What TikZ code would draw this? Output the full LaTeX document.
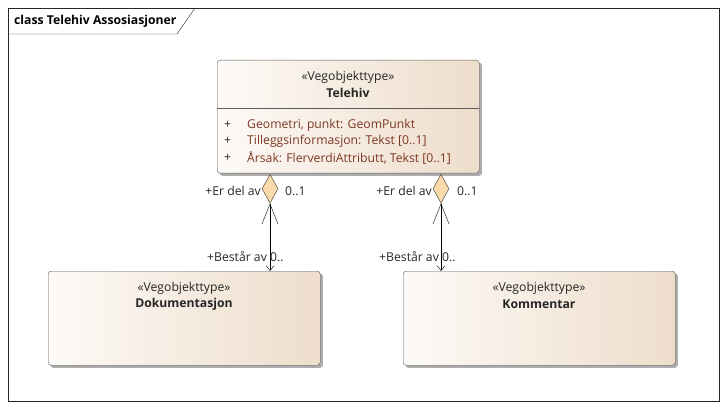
\documentclass[tikz,border=0pt]{standalone}
\usepackage{fontspec}
\setmainfont{Open Sans}
\usetikzlibrary{arrows.meta,shapes.geometric,backgrounds,positioning}

\definecolor{boxline}{RGB}{90,90,90}
\definecolor{boxleft}{RGB}{253,250,247}
\definecolor{boxright}{RGB}{238,221,203}
\definecolor{attrtext}{RGB}{125,55,35}
\definecolor{aggfill}{RGB}{250,218,170}

\begin{document}
\begin{tikzpicture}[x=1pt,y=-1pt,
	classbox/.style={draw=boxline, rounded corners=3pt, left color=boxleft, right color=boxright,
		anchor=north west, inner sep=0pt},
	shadowbox/.style={fill=black!32, rounded corners=3pt},
	txt/.style={font=\fontsize{12.2}{14}\selectfont, inner sep=0pt, text=black!85},
	bold/.style={txt, font=\fontsize{12.2}{14}\selectfont\bfseries},
	attr/.style={txt, anchor=west, text=attrtext},
	aggr/.style={shape=diamond, draw=black!80, fill=aggfill, inner sep=0pt,
		minimum width=16pt, minimum height=29pt, anchor=north},
	assoc/.style={draw=black, {Straight Barb[length=20pt,width=16pt]}-{Straight Barb[length=5pt,width=8pt]}}]
	\useasboundingbox (0,0) rectangle (726,409);
	% frame
	\draw[black!85] (8,8) rectangle (719,401);
	\draw[black!85] (8,34) -- (177,34) -- (195,8);
	\node[bold, anchor=west, text=black] (title) at (14,21) {class Telehiv Assosiasjoner};
	% classes
	\node[classbox, minimum width=262pt, minimum height=113pt] (tele) at (217,60) {};
	\node[classbox, minimum width=272pt, minimum height=94pt] (doku) at (48,271) {};
	\node[classbox, minimum width=272pt, minimum height=94pt] (komm) at (403,271) {};
	\begin{scope}[on background layer]
		\foreach \b in {tele,doku,komm}
			\fill[shadowbox] ([shift={(2.5pt,-2.5pt)}]\b.north west) rectangle ([shift={(2.5pt,-2.5pt)}]\b.south east);
	\end{scope}
	\draw[boxline] (217,108) -- (479,108);
	\node[txt] (teleS) at (348,77) {«Vegobjekttype»};
	\node[bold] (teleN) at (348,93) {Telehiv};
	\node[txt] (dokuS) at (184,288) {«Vegobjekttype»};
	\node[bold] (dokuN) at (184,304) {Dokumentasjon};
	\node[txt] (kommS) at (539,288) {«Vegobjekttype»};
	\node[bold] (kommN) at (539,304) {Kommentar};
	% attributes
	\node[attr, text=black!85] (p1) at (224,125) {+};
	\node[attr, text=black!85] (p2) at (224,141) {+};
	\node[attr, text=black!85] (p3) at (224,158) {+};
	\node[attr] (a1) at (247,125) {Geometri, punkt: GeomPunkt};
	\node[attr] (a2) at (247,141) {Tilleggsinformasjon: Tekst [0..1]};
	\node[attr] (a3) at (247,158) {Årsak: FlerverdiAttributt, Tekst [0..1]};
	% aggregations
	\node[aggr] (agg1) at (270,174) {};
	\node[aggr] (agg2) at (441,174) {};
	\draw[assoc] (agg1.south) -- (agg1.south |- doku.north);
	\draw[assoc] (agg2.south) -- (agg2.south |- komm.north);
	\node[txt, anchor=east] (r1) at (261,191) {+Er del av};
	\node[txt, anchor=west] (m1) at (285,191) {0..1};
	\node[txt, anchor=west] (r2) at (207,257) {+Består av 0..};
	\node[txt, anchor=east] (r3) at (432,191) {+Er del av};
	\node[txt, anchor=west] (m3) at (457,191) {0..1};
	\node[txt, anchor=west] (r4) at (379,257) {+Består av 0..};
\end{tikzpicture}
\end{document}
